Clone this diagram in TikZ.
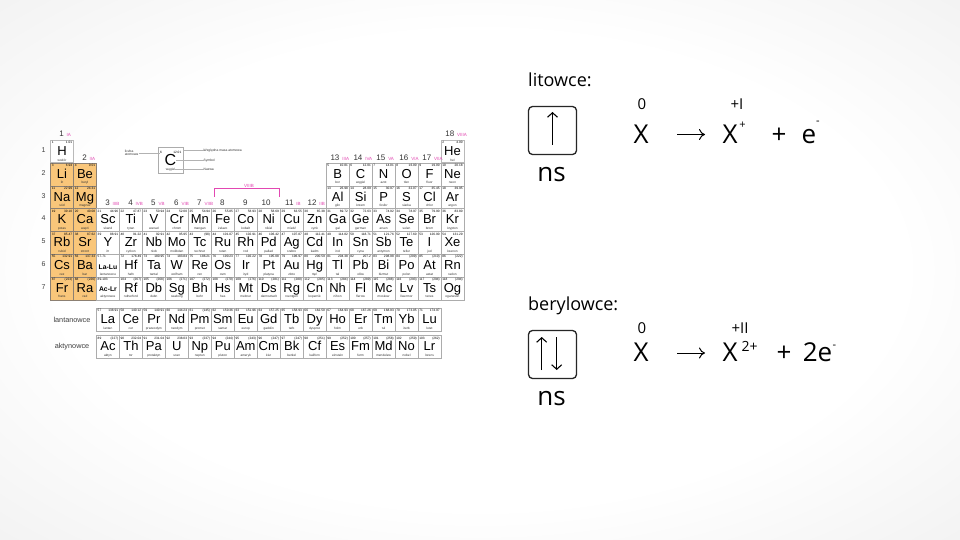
\documentclass[tikz,border=0pt]{standalone}
\usepackage{fontspec}
\setmainfont{Liberation Sans}
\newfontfamily\slidefont{Open Sans}
\usetikzlibrary{calc}
\usetikzlibrary{arrows.meta}
\definecolor{alkali}{RGB}{249,198,122}
\definecolor{grouppink}{RGB}{226,72,178}
\pgfdeclareradialshading{vignette}{\pgfpoint{0bp}{0bp}}{color(0bp)=(white); color(22bp)=(white); color(50bp)=(black!10); color(72bp)=(black!18)}
\tikzstyle{cell}=[draw=gray!65, line width=0.4pt, fill=white, minimum width=22.97pt, minimum height=22.8pt, inner sep=0pt]
\tikzstyle{symb}=[anchor=base, inner sep=0pt, font=\fontsize{13}{13}\selectfont]
\tikzstyle{znum}=[anchor=base west, inner sep=0pt, font=\fontsize{3.2}{3.2}\selectfont]
\tikzstyle{zmass}=[anchor=base east, inner sep=0pt, font=\fontsize{3.2}{3.2}\selectfont]
\tikzstyle{zname}=[anchor=base, inner sep=0pt, text=black!80, font=\fontsize{3.2}{3.2}\selectfont]
\tikzstyle{serie}=[anchor=base, inner sep=0pt, font=\bfseries\fontsize{6.8}{6.8}\selectfont]
\tikzstyle{gnum}=[anchor=base east, inner sep=0pt, text=black!80, font=\fontsize{8}{8}\selectfont]
\tikzstyle{groman}=[anchor=base west, inner sep=0pt, xshift=2.5pt, text=grouppink, font=\fontsize{4.5}{4.5}\selectfont]
\tikzstyle{rowlbl}=[inner sep=0pt, text=black!75, font=\fontsize{7}{7}\selectfont]
\tikzstyle{serieslbl}=[inner sep=0pt, text=black!75, font=\fontsize{7.3}{7.3}\selectfont]
\tikzstyle{legtxt}=[inner sep=0pt, text=black!80, font=\fontsize{3.3}{3.6}\selectfont]
\tikzstyle{legline}=[draw=gray!60, line width=0.35pt]
\tikzstyle{slidelbl}=[anchor=base west, inner sep=0pt, font=\slidefont\fontsize{18}{18}\selectfont]
\tikzstyle{orbital}=[draw=black!85, line width=1.3pt, rounded corners=4pt, minimum size=48pt, inner sep=0pt]
\tikzstyle{spin}=[line width=1.1pt, -{Straight Barb[length=4.5pt,width=10pt]}]
\tikzstyle{yields}=[line width=1pt, -{Computer Modern Rightarrow[length=6pt,width=11pt]}]
\tikzstyle{nslbl}=[anchor=base, inner sep=0pt, font=\slidefont\fontsize{26}{26}\selectfont]
\tikzstyle{eqtxt}=[anchor=base, inner sep=0pt, font=\slidefont\fontsize{26}{26}\selectfont]
\tikzstyle{oxid}=[anchor=base, inner sep=0pt, font=\slidefont\fontsize{15}{15}\selectfont]
\tikzstyle{charge}=[inner sep=0pt, font=\slidefont\fontsize{11}{11}\selectfont]
\newcommand{\element}[7][]{% [style] {col}{row}{Z}{symbol}{mass}{name}
  \pgfmathsetmacro{\cx}{\xzero+(#2-1)*\cellw}
  \pgfmathsetmacro{\cy}{\yzero+(#3-1)*\cellh}
  \node[cell,#1] (#5) at (\cx,\cy) {};
  \node[znum] (#5-num) at (\cx-10.4,\cy-7.6) {#4};
  \node[zmass] (#5-mass) at (\cx+10.4,\cy-7.6) {#6};
  \node[symb] (#5-sym) at (\cx,\cy+4) {#5};
  \node[zname] (#5-name) at (\cx,\cy+9.6) {#7};
}
\newcommand{\grouplabel}[4]{% col, baseline, number, roman
  \pgfmathsetmacro{\gx}{\xzero+(#1-1)*\cellw+2}
  \node[gnum] (grp#3) at (\gx,#2) {#3};
  \node[groman] (grp#3-r) at (grp#3.base east) {#4};
}
\begin{document}
\begin{tikzpicture}[x=1pt,y=-1pt]
\useasboundingbox (0,0) rectangle (960,540);
\shade[shading=vignette] (0,0) rectangle (960,540);

\def\xzero{62}
\def\yzero{151.5}
\def\cellw{22.97}
\def\cellh{22.8}

% s-block
\element[line width=0.9pt, draw=gray!55]{1}{1}{1}{H}{1.01}{wodór}
\element[line width=0.9pt, draw=gray!55]{18}{1}{2}{He}{4.00}{hel}
\foreach \col/\row/\zz/\sy/\ms/\nm in {1/2/3/Li/6.94/lit, 2/2/4/Be/9.01/beryl,
  1/3/11/Na/22.99/sód, 2/3/12/Mg/24.31/magnez, 1/4/19/K/39.10/potas, 2/4/20/Ca/40.08/wapń,
  1/5/37/Rb/85.47/rubid, 2/5/38/Sr/87.62/stront, 1/6/55/Cs/132.91/cez, 2/6/56/Ba/137.33/bar,
  1/7/87/Fr/(223)/frans, 2/7/88/Ra/(226)/rad}
  {\element[fill=alkali, draw=gray!80!brown]{\col}{\row}{\zz}{\sy}{\ms}{\nm}}

\foreach \col/\row/\zz/\sy/\ms/\nm in {13/2/5/B/10.81/bor, 14/2/6/C/12.01/węgiel, 15/2/7/N/14.01/azot,
  16/2/8/O/16.00/tlen, 17/2/9/F/19.00/fluor, 18/2/10/Ne/20.18/neon,
  13/3/13/Al/26.98/glin, 14/3/14/Si/28.09/krzem, 15/3/15/P/30.97/fosfor,
  16/3/16/S/32.07/siarka, 17/3/17/Cl/35.45/chlor, 18/3/18/Ar/39.95/argon,
  3/4/21/Sc/44.96/skand, 4/4/22/Ti/47.87/tytan, 5/4/23/V/50.94/wanad, 6/4/24/Cr/52.00/chrom,
  7/4/25/Mn/54.94/mangan, 8/4/26/Fe/55.85/żelazo, 9/4/27/Co/58.93/kobalt, 10/4/28/Ni/58.69/nikiel,
  11/4/29/Cu/63.55/miedź, 12/4/30/Zn/65.38/cynk, 13/4/31/Ga/69.72/gal, 14/4/32/Ge/72.63/german,
  15/4/33/As/74.92/arsen, 16/4/34/Se/78.97/selen, 17/4/35/Br/79.90/brom, 18/4/36/Kr/83.80/krypton,
  3/5/39/Y/88.91/itr, 4/5/40/Zr/91.22/cyrkon, 5/5/41/Nb/92.91/niob, 6/5/42/Mo/95.95/molibden,
  7/5/43/Tc/(98)/technet, 8/5/44/Ru/101.07/ruten, 9/5/45/Rh/102.91/rod, 10/5/46/Pd/106.42/pallad,
  11/5/47/Ag/107.87/srebro, 12/5/48/Cd/112.41/kadm, 13/5/49/In/114.82/ind, 14/5/50/Sn/118.71/cyna,
  15/5/51/Sb/121.76/antymon, 16/5/52/Te/127.60/tellur, 17/5/53/I/126.90/jod, 18/5/54/Xe/131.29/ksenon,
  4/6/72/Hf/178.49/hafn, 5/6/73/Ta/180.95/tantal, 6/6/74/W/183.84/wolfram, 7/6/75/Re/186.21/ren,
  8/6/76/Os/190.23/osm, 9/6/77/Ir/192.22/iryd, 10/6/78/Pt/195.08/platyna, 11/6/79/Au/196.97/złoto,
  12/6/80/Hg/200.59/rtęć, 13/6/81/Tl/204.38/tal, 14/6/82/Pb/207.2/ołów, 15/6/83/Bi/208.98/bizmut,
  16/6/84/Po/(209)/polon, 17/6/85/At/(210)/astat, 18/6/86/Rn/(222)/radon,
  4/7/104/Rf/(267)/rutherford, 5/7/105/Db/(268)/dubn, 6/7/106/Sg/(271)/seaborg, 7/7/107/Bh/(272)/bohr,
  8/7/108/Hs/(270)/has, 9/7/109/Mt/(276)/meitner, 10/7/110/Ds/(281)/darmsztadt, 11/7/111/Rg/(280)/roentgen,
  12/7/112/Cn/(285)/kopernik, 13/7/113/Nh/(284)/nihon, 14/7/114/Fl/(289)/flerow, 15/7/115/Mc/(288)/moskow,
  16/7/116/Lv/(293)/liwermor, 17/7/117/Ts/(294)/tenes, 18/7/118/Og/(294)/oganeson}
  {\element{\col}{\row}{\zz}{\sy}{\ms}{\nm}}

% f-block
\foreach \col/\zz/\sy/\ms/\nm in {3/57/La/138.91/lantan, 4/58/Ce/140.12/cer, 5/59/Pr/140.91/prazeodym,
  6/60/Nd/144.24/neodym, 7/61/Pm/(145)/promet, 8/62/Sm/150.36/samar, 9/63/Eu/151.96/europ,
  10/64/Gd/157.25/gadolin, 11/65/Tb/158.93/terb, 12/66/Dy/162.50/dysproz, 13/67/Ho/164.93/holm,
  14/68/Er/167.26/erb, 15/69/Tm/168.93/tul, 16/70/Yb/173.05/iterb, 17/71/Lu/174.97/lutet}
  {\element{\col}{8.37}{\zz}{\sy}{\ms}{\nm}}
\foreach \col/\zz/\sy/\ms/\nm in {3/89/Ac/(227)/aktyn, 4/90/Th/232.04/tor, 5/91/Pa/231.04/protaktyn,
  6/92/U/238.03/uran, 7/93/Np/(237)/neptun, 8/94/Pu/(244)/pluton, 9/95/Am/(243)/ameryk,
  10/96/Cm/(247)/kiur, 11/97/Bk/(247)/berkel, 12/98/Cf/(251)/kaliforn, 13/99/Es/(252)/einstein,
  14/100/Fm/(257)/ferm, 15/101/Md/(258)/mendelew, 16/102/No/(259)/nobel, 17/103/Lr/(262)/lorens}
  {\element{\col}{9.56}{\zz}{\sy}{\ms}{\nm}}

\node[cell] (LaLu) at (107.94,265.5) {};
\node[znum] (LaLu-num) at ($(LaLu.center)+(-10.4,-7.6)$) {57-71};
\node[serie] (LaLu-sym) at ($(LaLu.center)+(0,3.5)$) {La-Lu};
\node[zname] (LaLu-name) at ($(LaLu.center)+(0,9.6)$) {lantanowce};
\node[cell] (AcLr) at (107.94,288.3) {};
\node[znum] (AcLr-num) at ($(AcLr.center)+(-10.4,-7.6)$) {89-103};
\node[serie] (AcLr-sym) at ($(AcLr.center)+(0,3.5)$) {Ac-Lr};
\node[zname] (AcLr-name) at ($(AcLr.center)+(0,9.6)$) {aktynowce};

\node[serieslbl] (lanlbl) at (72,320) {lantanowce};
\node[serieslbl] (aktlbl) at (72,347) {aktynowce};

\foreach \row in {1,...,7}
  {\pgfmathsetmacro{\ry}{\yzero+(\row-1)*\cellh-1.5}
  \node[rowlbl] (row\row) at (43.5,\ry) {\row};}

% group numbers
\grouplabel{1}{137}{1}{IA}
\grouplabel{18}{137}{18}{VIIIA}
\grouplabel{2}{160.3}{2}{IIA}
\foreach \col/\rom in {13/IIIA, 14/IVA, 15/VA, 16/VIA, 17/VIIA}
  {\grouplabel{\col}{160.3}{\col}{\rom}}
\foreach \col/\rom in {3/IIIB, 4/IVB, 5/VB, 6/VIB, 7/VIIB, 8/, 9/, 10/, 11/IB, 12/IIB}
  {\grouplabel{\col}{205.7}{\col}{\rom}}
\draw[grouppink, line width=0.5pt] (214,196.7) -- (214,188) -- (279,188) -- (279,196.7);
\node[groman, xshift=0pt, anchor=base] (grp8to10) at (246.5,187) {VIIIB};

% legend
\node[cell, minimum width=25pt, minimum height=26pt] (legend) at (170.5,160) {};
\node[znum] (legend-num) at (160,154) {6};
\node[zmass] (legend-mass) at (181.5,154) {12.01};
\node[symb, font=\fontsize{16}{16}\selectfont] (legend-sym) at (170.5,165.5) {C};
\node[zname] (legend-name) at (170.5,171) {węgiel};
\node[legtxt, anchor=east, align=left] (lbl-num) at (138.5,153) {liczba\\atomowa};
\node[legtxt, anchor=west] (lbl-mass) at (203.5,150.5) {Względna masa atomowa};
\node[legtxt, anchor=west] (lbl-sym) at (203.5,160.5) {Symbol};
\node[legtxt, anchor=west] (lbl-name) at (203.5,169) {Nazwa};
\draw[legline] (lbl-num.east) -- (lbl-num.east -| legend-num.west);
\draw[legline] (legend.east |- lbl-mass.west) -- (lbl-mass.west);
\draw[legline] (legend-sym.east |- lbl-sym.west) -- (lbl-sym.west);
\draw[legline] (legend-name.east |- lbl-name.west) -- (lbl-name.west);

% litowce
\node[slidelbl] (lit) at (528,86.5) {litowce:};
\node[orbital] (box1) at (552.5,130.5) {};
\coordinate (up1a) at (552.5,145);
\coordinate (up1b) at (552.5,112);
\draw[spin] (up1a) -- (up1b);
\node[nslbl] (ns1) at (551.5,181.7) {ns};
\node[oxid] (ox1a) at (642,110) {0};
\node[eqtxt] (x1a) at (641,143.3) {X};
\coordinate (arr1a) at (677,134.5);
\coordinate (arr1b) at (705,134.5);
\draw[yields] (arr1a) -- (arr1b);
\node[oxid] (ox1b) at (737,110) {+I};
\node[eqtxt] (x1b) at (730,143.3) {X};
\node[charge] (chg1) at (742.5,125) {+};
\node[eqtxt] (plus1) at (779,143.3) {+};
\node[eqtxt] (e1) at (809,143.3) {e};
\node[charge] (em1) at (818,123.3) {-};

% berylowce
\node[slidelbl] (ber) at (528,310) {berylowce:};
\node[orbital] (box2) at (552.5,354.5) {};
\coordinate (up2a) at (541.7,370);
\coordinate (up2b) at (541.7,337);
\coordinate (dn2a) at (556.7,337);
\coordinate (dn2b) at (556.7,370);
\draw[spin] (up2a) -- (up2b);
\draw[spin] (dn2a) -- (dn2b);
\node[nslbl] (ns2) at (551.5,405.7) {ns};
\node[oxid] (ox2a) at (642,333.3) {0};
\node[eqtxt] (x2a) at (641,361.3) {X};
\coordinate (arr2a) at (677,353);
\coordinate (arr2b) at (705,353);
\draw[yields] (arr2a) -- (arr2b);
\node[oxid] (ox2b) at (740,333.3) {+II};
\node[eqtxt] (x2b) at (730,361.3) {X};
\node[charge, font=\slidefont\fontsize{14}{14}\selectfont] (chg2) at (749.5,346.5) {2+};
\node[eqtxt] (plus2) at (784,361.3) {+};
\node[eqtxt] (e2) at (817.5,361.3) {2e};
\node[charge] (em2) at (834.5,346.7) {-};
\end{tikzpicture}
\end{document}
